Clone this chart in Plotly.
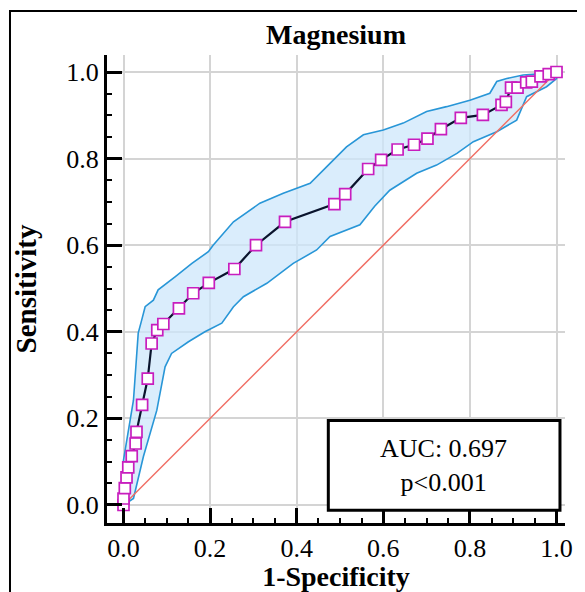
import plotly.graph_objects as go

# ROC curve points (1-Specificity, Sensitivity)
roc_fpr = [0.0, 0.0, 0.003, 0.007, 0.011, 0.019, 0.028, 0.030, 0.043, 0.056, 0.065, 0.078,
           0.092, 0.128, 0.161, 0.197, 0.256, 0.306, 0.373, 0.487, 0.512, 0.565, 0.595,
           0.633, 0.671, 0.702, 0.733, 0.779, 0.830, 0.873, 0.883, 0.895, 0.910, 0.930,
           0.943, 0.963, 0.982, 1.0]
roc_tpr = [0.0, 0.015, 0.039, 0.064, 0.087, 0.113, 0.142, 0.169, 0.231, 0.292, 0.373, 0.404,
           0.418, 0.454, 0.489, 0.513, 0.545, 0.600, 0.654, 0.695, 0.718, 0.776, 0.797,
           0.821, 0.832, 0.846, 0.868, 0.894, 0.901, 0.924, 0.931, 0.964, 0.964, 0.976,
           0.978, 0.990, 0.995, 1.0]

# Upper confidence band
upper_x = [0.0, 0.0, 0.023, 0.034, 0.042, 0.050, 0.069, 0.080, 0.119, 0.158, 0.196, 0.207,
           0.254, 0.315, 0.369, 0.431, 0.477, 0.515, 0.554, 0.600, 0.646, 0.700, 0.746,
           0.800, 0.846, 0.862, 0.885, 0.923, 0.992, 1.0]
upper_y = [0.0, 0.104, 0.242, 0.397, 0.427, 0.458, 0.473, 0.497, 0.527, 0.558, 0.585, 0.600,
           0.654, 0.697, 0.720, 0.743, 0.789, 0.827, 0.855, 0.866, 0.882, 0.909, 0.920,
           0.935, 0.951, 0.978, 0.985, 0.993, 0.998, 1.0]

# Lower confidence band
lower_x = [0.0, 0.023, 0.046, 0.077, 0.096, 0.111, 0.150, 0.188, 0.227, 0.254, 0.277, 0.331,
           0.392, 0.446, 0.477, 0.546, 0.580, 0.615, 0.677, 0.723, 0.770, 0.808, 0.862,
           0.908, 0.931, 0.977, 1.0, 1.0]
lower_y = [0.0, 0.015, 0.112, 0.219, 0.319, 0.350, 0.377, 0.400, 0.420, 0.458, 0.481, 0.512,
           0.558, 0.589, 0.620, 0.647, 0.690, 0.727, 0.766, 0.785, 0.812, 0.839, 0.862,
           0.889, 0.943, 0.966, 0.985, 1.0]

# Reference (chance) line
ref_x = [0.0, 1.0]
ref_y = [0.0, 1.0]

tick_vals = [0.0, 0.2, 0.4, 0.6, 0.8, 1.0]
tick_text = ["0.0", "0.2", "0.4", "0.6", "0.8", "1.0"]

title_text = "Magnesium"
x_title = "1-Specificity"
y_title = "Sensitivity"
auc_text = "AUC: 0.697<br>p<0.001"

FONT = "Liberation Serif"
BAND_LINE = "rgb(40,150,215)"
BAND_FILL = "rgba(205,231,251,0.75)"

fig = go.Figure()

# filled region: upper band + reversed lower band
fig.add_trace(go.Scatter(x=upper_x + lower_x[::-1], y=upper_y + lower_y[::-1],
                         mode="none", fill="toself", fillcolor=BAND_FILL,
                         showlegend=False, hoverinfo="skip"))
fig.add_trace(go.Scatter(x=upper_x, y=upper_y, mode="lines",
                         line=dict(color=BAND_LINE, width=1.6), showlegend=False))
fig.add_trace(go.Scatter(x=lower_x, y=lower_y, mode="lines",
                         line=dict(color=BAND_LINE, width=1.6), showlegend=False))
fig.add_trace(go.Scatter(x=ref_x, y=ref_y, mode="lines",
                         line=dict(color="rgb(240,110,100)", width=1.5), showlegend=False))
fig.add_trace(go.Scatter(x=roc_fpr, y=roc_tpr, mode="lines+markers",
                         line=dict(color="rgb(10,20,45)", width=2.2),
                         marker=dict(symbol="square", size=11, color="white",
                                     line=dict(color="rgb(200,30,190)", width=1.7)),
                         showlegend=False))

axis_common = dict(
    showline=True, linewidth=3, linecolor="black", mirror=False,
    ticks="inside", ticklen=15, tickwidth=3, tickcolor="black",
    tickvals=tick_vals, ticktext=tick_text,
    tickfont=dict(family=FONT, size=26, color="black"),
    showgrid=True, gridcolor="rgb(212,212,212)", gridwidth=1.5,
    zeroline=False,
    minor=dict(ticks="inside", ticklen=5, tickwidth=1.5, tickcolor="black",
               dtick=0.05, tick0=0, showgrid=False),
)

fig.update_layout(
    width=577, height=584,
    margin=dict(l=99, r=20, t=47, b=69, autoexpand=False),
    paper_bgcolor="white", plot_bgcolor="white",
    font=dict(family=FONT, color="black"),
    xaxis=dict(range=[-0.0381, 1.0196],
               title=dict(text="<b>" + x_title + "</b>",
                          font=dict(family=FONT, size=28, color="black"), standoff=0),
               automargin=False,
               **axis_common),
    yaxis=dict(range=[-0.0416, 1.0393],
               title=dict(text="<b>" + y_title + "</b>",
                          font=dict(family=FONT, size=29, color="black"), standoff=22),
               automargin=False,
               **axis_common),
    showlegend=False,
)

# title
fig.add_annotation(text="<b>" + title_text + "</b>", xref="paper", yref="paper",
                   x=0.5, y=1.0, yshift=21, xanchor="center", yanchor="middle",
                   showarrow=False, font=dict(family=FONT, size=28, color="black"))

# AUC box
fig.add_shape(type="rect", xref="x", yref="y", x0=0.473, x1=1.008, y0=-0.012, y1=0.195,
              line=dict(color="black", width=3), fillcolor="white", layer="above")
fig.add_annotation(text=auc_text, xref="x", yref="y", x=0.74, y=0.0915,
                   showarrow=False, align="center",
                   font=dict(family=FONT, size=26, color="black"))

# outer frame
fig.add_shape(type="rect", xref="paper", yref="paper",
              x0=-0.2118, x1=1.0306, y0=-0.2, y1=1.094,
              line=dict(color="black", width=2), fillcolor="rgba(0,0,0,0)", layer="above")

fig.write_html("out.html")
